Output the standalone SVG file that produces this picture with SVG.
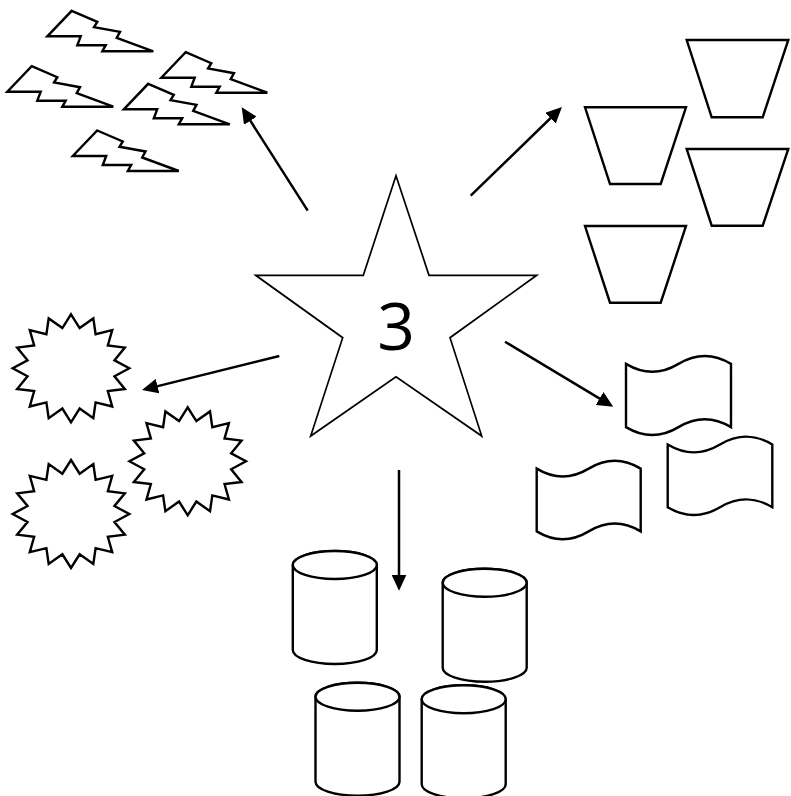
<svg xmlns="http://www.w3.org/2000/svg" width="791" height="796" viewBox="0 0 791 796">
<style>
.s{fill:#fff;stroke:#000;stroke-width:2.4;stroke-linejoin:miter}
.star{fill:#fff;stroke:#000;stroke-width:1.7}
.c{fill:none;stroke:#000;stroke-width:2.5}
.t{font-family:"Open Sans","Noto Sans",sans-serif;font-size:66px;fill:#000}
</style>
<defs>
<marker id="ah" markerUnits="userSpaceOnUse" markerWidth="16" markerHeight="15" refX="6" refY="7.5" orient="auto" viewBox="0 0 16 15">
<path d="M0,0 L16,7.5 L0,15 Z" fill="#000"/>
</marker>
<path id="bolt" class="s" d="M25.2,0.5 L50.8,11.5 L47.5,16.8 L73.5,21.5 L70.2,27.5 L106.8,41 L55.8,41 L59.2,35 L30.8,35 L34.2,26 L0.8,26 Z"/>
<path id="burst" class="s" d="M0,-54 L8.64,-40.25 L22.31,-49.89 L24.62,-34.12 L41.22,-38.18 L36.84,-22.8 L53.86,-20.67 L43.46,-8.01 L58.3,0 L43.46,8.01 L53.86,20.67 L36.84,22.8 L41.22,38.18 L24.62,34.12 L22.31,49.89 L8.64,40.25 L0,54 L-8.64,40.25 L-22.31,49.89 L-24.62,34.12 L-41.22,38.18 L-36.84,22.8 L-53.86,20.67 L-43.46,8.01 L-58.3,0 L-43.46,-8.01 L-53.86,-20.67 L-36.84,-22.8 L-41.22,-38.18 L-24.62,-34.12 L-22.31,-49.89 L-8.64,-40.25 Z"/>
</defs>

<g id="center-star">
<polygon class="star" points="396,175.7 429,275.3 536.7,275.3 450,337.7 481.7,436 396,376.7 310.7,436 342.7,337.7 255.7,275.3 363.3,275.3"/>
<text class="t" x="396" y="350" text-anchor="middle">3</text>
</g>

<g id="bolts">
<use id="bolt1" href="#bolt" transform="translate(46.5,10.3)"/>
<use id="bolt2" href="#bolt" transform="translate(6.5,65.7)"/>
<use id="bolt3" href="#bolt" transform="translate(160.5,51.7)"/>
<use id="bolt4" href="#bolt" transform="translate(123,83.3)"/>
<use id="bolt5" href="#bolt" transform="translate(72,130)"/>
</g>

<g id="trapezoids">
<polygon id="trap1" class="s" points="686.7,40 788.3,40 762.7,117.3 711.7,117.3"/>
<polygon id="trap2" class="s" points="585,107.3 686,107.3 660.7,184 610,184"/>
<polygon id="trap3" class="s" points="686.7,149 788.3,149 762.7,225.7 711.7,225.7"/>
<polygon id="trap4" class="s" points="585,226 686,226 660.7,302.7 610,302.7"/>
</g>

<g id="bursts">
<use id="burst1" href="#burst" transform="translate(71,368.3)"/>
<use id="burst2" href="#burst" transform="translate(187.7,461.3)"/>
<use id="burst3" href="#burst" transform="translate(71,514)"/>
</g>

<g id="tapes">
<path id="tape1" class="s" d="M626,363.9 Q652.25,379.7 678.5,363.9 T731,363.9 L731,427.1 Q704.75,411.3 678.5,427.1 T626,427.1 Z"/>
<path id="tape2" class="s" d="M667.7,444.5 Q693.85,460.2 720,444.5 T772.3,444.5 L772.3,507.2 Q746.15,491.5 720,507.2 T667.7,507.2 Z"/>
<path id="tape3" class="s" d="M536.7,468.6 Q562.7,484.3 588.7,468.6 T640.7,468.6 L640.7,531.4 Q614.7,515.7 588.7,531.4 T536.7,531.4 Z"/>
</g>

<g id="cylinders">
<g id="cyl1">
<path class="s" d="M292.8,565 L292.8,650 A42,14 0 0 0 376.8,650 L376.8,565 A42,14 0 0 0 292.8,565 Z"/>
<ellipse class="s" cx="334.8" cy="565" rx="42" ry="14"/>
</g>
<g id="cyl2">
<path class="s" d="M442.7,582.7 L442.7,667.7 A42,14 0 0 0 526.7,667.7 L526.7,582.7 A42,14 0 0 0 442.7,582.7 Z"/>
<ellipse class="s" cx="484.7" cy="582.7" rx="42" ry="14"/>
</g>
<g id="cyl3">
<path class="s" d="M315.5,696.7 L315.5,781.7 A42,14 0 0 0 399.5,781.7 L399.5,696.7 A42,14 0 0 0 315.5,696.7 Z"/>
<ellipse class="s" cx="357.5" cy="696.7" rx="42" ry="14"/>
</g>
<g id="cyl4">
<path class="s" d="M421.7,699.3 L421.7,784.3 A42,14 0 0 0 505.7,784.3 L505.7,699.3 A42,14 0 0 0 421.7,699.3 Z"/>
<ellipse class="s" cx="463.7" cy="699.3" rx="42" ry="14"/>
</g>
</g>

<g id="connectors">
<line class="c" x1="307.7" y1="210.7" x2="247.1" y2="115.7" marker-end="url(#ah)"/>
<line class="c" x1="470.7" y1="195.7" x2="554.8" y2="114" marker-end="url(#ah)"/>
<line class="c" x1="279.3" y1="356" x2="151.7" y2="387.6" marker-end="url(#ah)"/>
<line class="c" x1="505" y1="341.7" x2="604.7" y2="401.6" marker-end="url(#ah)"/>
<line class="c" x1="399" y1="470" x2="399" y2="580.7" marker-end="url(#ah)"/>
</g>
</svg>
